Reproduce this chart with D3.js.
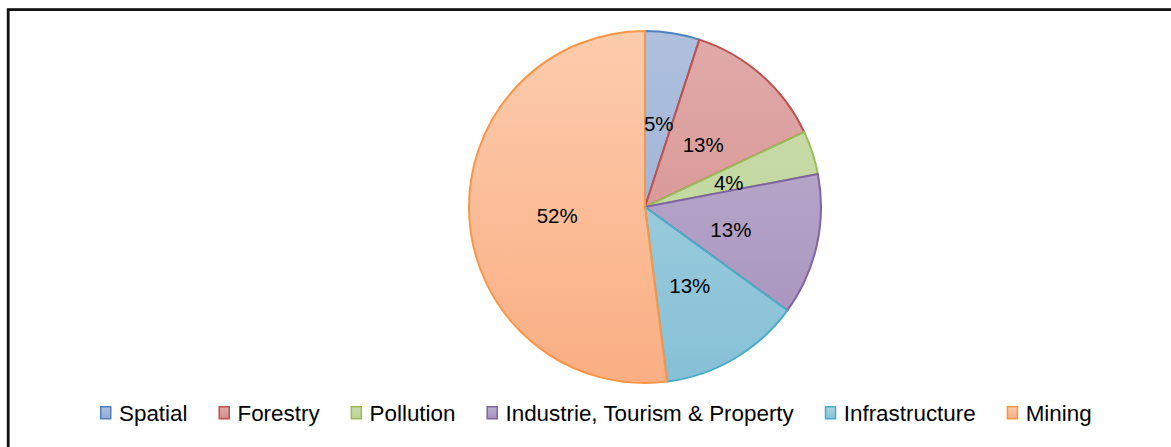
<!DOCTYPE html>
<html>
<head>
<meta charset="utf-8">
<script src="https://cdn.jsdelivr.net/npm/d3@7"></script>
<style>
  html, body { margin: 0; padding: 0; background: #fff; }
  svg { display: block; }
  text { font-family: "Liberation Sans", Arial, sans-serif; fill: #000; }
</style>
</head>
<body>
<svg id="chart" width="1171" height="447"></svg>
<script>
const categories = ["Spatial", "Forestry", "Pollution", "Industrie, Tourism & Property", "Infrastructure", "Mining"];
const values = [5, 13, 4, 13, 13, 52];
const labels = ["5%", "13%", "4%", "13%", "13%", "52%"];
const strokeColors = ["#4F81BD", "#C0504D", "#9BBB59", "#8064A2", "#4BACC6", "#F79646"];
const fillTop = ["#AFC0DD", "#E0ABAA", "#CCDDAF", "#BEB2CF", "#ABD4E2", "#FCCCAD"];
const fillBottom = ["#92ABD5", "#D38A88", "#BBD393", "#A690BC", "#86C0D6", "#FAAE83"];

const W = 1171, H = 447;
const cx = 645, cy = 207, R = 176;

const svg = d3.select("#chart");

// frame
svg.append("rect")
  .attr("x", 8.2).attr("y", 9.6)
  .attr("width", W + 20).attr("height", H + 20)
  .attr("fill", "none").attr("stroke", "#111").attr("stroke-width", 2.8);

const defs = svg.append("defs");
categories.forEach((c, i) => {
  const g = defs.append("linearGradient")
    .attr("id", "grad" + i)
    .attr("gradientUnits", "userSpaceOnUse")
    .attr("x1", 0).attr("y1", -R).attr("x2", 0).attr("y2", R);
  g.append("stop").attr("offset", "0%").attr("stop-color", fillTop[i]);
  g.append("stop").attr("offset", "100%").attr("stop-color", fillBottom[i]);
  const lg = defs.append("linearGradient")
    .attr("id", "lgrad" + i)
    .attr("x1", 0).attr("y1", 0).attr("x2", 0).attr("y2", 1);
  lg.append("stop").attr("offset", "0%").attr("stop-color", fillTop[i]);
  lg.append("stop").attr("offset", "100%").attr("stop-color", fillBottom[i]);
});

const pie = d3.pie().sort(null).value(d => d)
  .startAngle(0).endAngle(2 * Math.PI);
const arcs = pie(values);
const arc = d3.arc().innerRadius(0).outerRadius(R);
const labelArc = d3.arc().innerRadius(0).outerRadius(R);

const g = svg.append("g").attr("transform", `translate(${cx},${cy})`);

g.selectAll("path.slice")
  .data(arcs)
  .join("path")
  .attr("class", "slice")
  .attr("d", arc)
  .attr("fill", (d, i) => `url(#grad${i})`)
  .attr("stroke", (d, i) => strokeColors[i])
  .attr("stroke-width", 2)
  .attr("stroke-linejoin", "round");

g.selectAll("text.lbl")
  .data(arcs)
  .join("text")
  .attr("class", "lbl")
  .attr("transform", d => {
    const [x, y] = labelArc.centroid(d);
    return `translate(${x},${y + 3.5})`;
  })
  .attr("text-anchor", "middle")
  .attr("dy", "0.35em")
  .style("font-size", "20.5px")
  .text((d, i) => labels[i]);

// legend
const legend = svg.append("g").attr("class", "legend");
let x = 100;
const ly = 413;
categories.forEach((c, i) => {
  legend.append("rect")
    .attr("x", x + 0.75).attr("y", ly - 6.25)
    .attr("width", 10).attr("height", 12)
    .attr("fill", `url(#lgrad${i})`)
    .attr("stroke", strokeColors[i]).attr("stroke-width", 1.5);
  const t = legend.append("text")
    .attr("x", x + 19).attr("y", ly + 7.8)
    .style("font-size", "22.4px")
    .text(c);
  const w = t.node().getComputedTextLength();
  x = x + 19 + w + 31;
});
</script>
</body>
</html>
